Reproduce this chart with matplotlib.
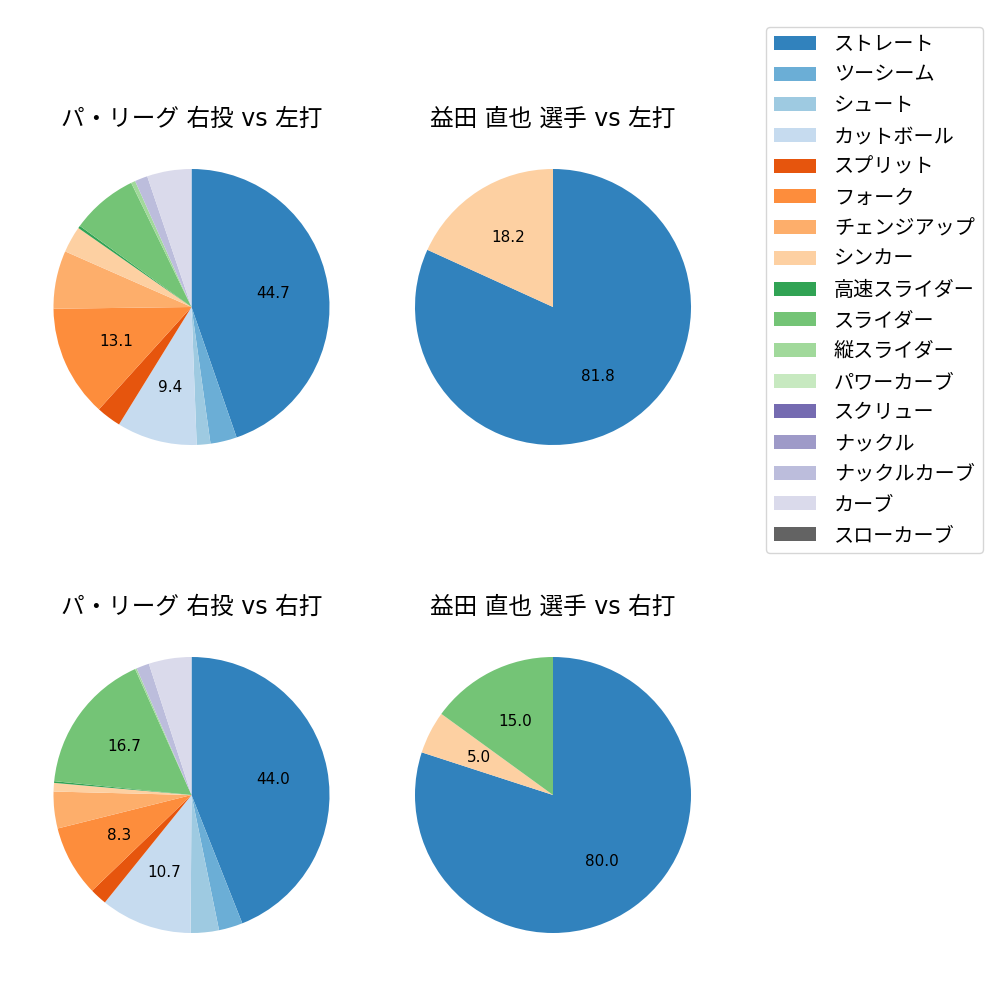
import matplotlib
matplotlib.use('Agg')
import matplotlib.pyplot as plt
from matplotlib.patches import Patch

plt.rcParams['font.family'] = ['DejaVu Sans', 'Noto Sans CJK JP']

pitch_types = ['ストレート', 'ツーシーム', 'シュート', 'カットボール', 'スプリット', 'フォーク',
               'チェンジアップ', 'シンカー', '高速スライダー', 'スライダー', '縦スライダー',
               'パワーカーブ', 'スクリュー', 'ナックル', 'ナックルカーブ', 'カーブ', 'スローカーブ']
colors = ['#3182bd', '#6baed6', '#9ecae1', '#c6dbef', '#e6550d', '#fd8d3c', '#fdae6b',
          '#fdd0a2', '#31a354', '#74c476', '#a1d99b', '#c7e9c0', '#756bb1', '#9e9ac8',
          '#bcbddc', '#dadaeb', '#636363']

# percentages
league_vs_left = [44.7, 3.1, 1.6, 9.4, 2.9, 13.1, 6.8, 3.1, 0.3, 7.8, 0.5, 0, 0, 0, 1.5, 5.2, 0]
player_vs_left = [81.8, 0, 0, 0, 0, 0, 0, 18.2, 0, 0, 0, 0, 0, 0, 0, 0, 0]
league_vs_right = [44.0, 2.8, 3.3, 10.7, 2.0, 8.3, 4.3, 1.0, 0.2, 16.7, 0.2, 0, 0, 0, 1.5, 5.0, 0]
player_vs_right = [80.0, 0, 0, 0, 0, 0, 0, 5.0, 0, 15.0, 0, 0, 0, 0, 0, 0, 0]

titles = ['パ・リーグ 右投 vs 左打', '益田 直也 選手 vs 左打',
          'パ・リーグ 右投 vs 右打', '益田 直也 選手 vs 右打']
datasets = [league_vs_left, player_vs_left, league_vs_right, player_vs_right]
thresholds = [8, 0, 8, 0]
positions = [[0.019, 0.5205, 0.345, 0.345], [0.3805, 0.5205, 0.345, 0.345],
             [0.019, 0.0325, 0.345, 0.345], [0.3805, 0.0325, 0.345, 0.345]]

fig = plt.figure(figsize=(10, 10), dpi=100)

for data, title, th, pos in zip(datasets, titles, thresholds, positions):
    ax = fig.add_axes(pos)
    vals = [v for v in data if v > 0]
    cols = [c for v, c in zip(data, colors) if v > 0]
    ax.pie(vals, colors=cols, startangle=90, counterclock=False,
           autopct=lambda p, th=th: f'{p:.1f}' if p >= th else '',
           textprops={'fontsize': 11})
    ax.set_title(title, fontsize=17)

handles = [Patch(facecolor=c, label=l) for c, l in zip(colors, pitch_types)]
fig.legend(handles=handles, loc='upper right', bbox_to_anchor=(0.983, 0.973),
           borderaxespad=0, fontsize=14.5, labelspacing=0.58, handlelength=2.1,
           handletextpad=0.9)

fig.savefig('out.png')
